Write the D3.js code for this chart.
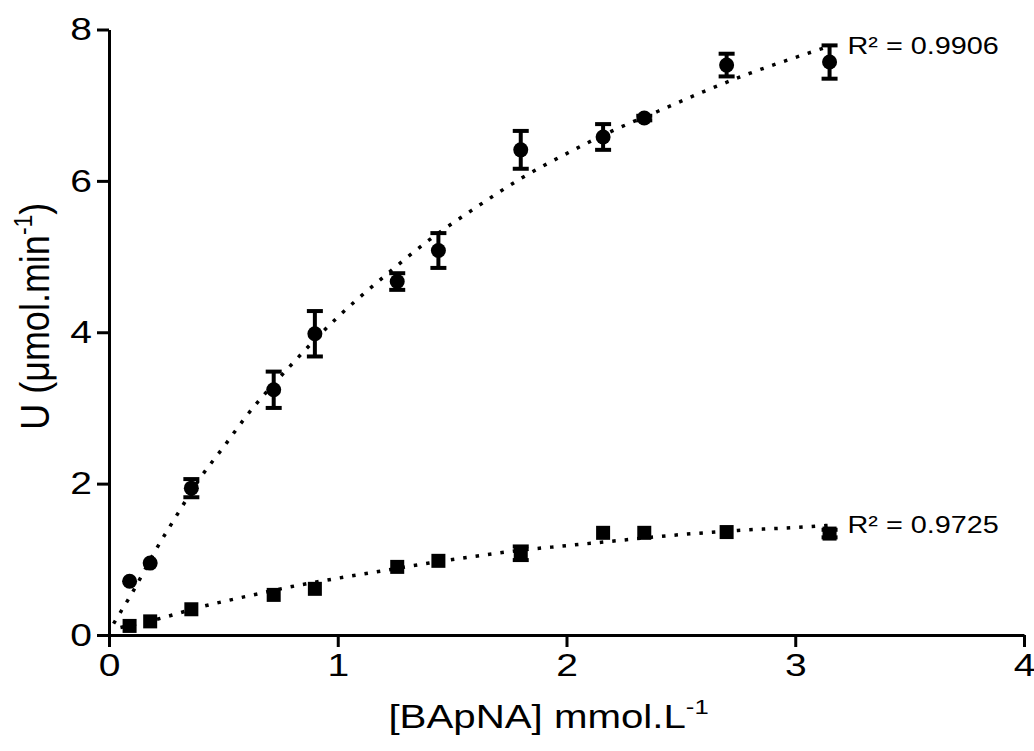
<!DOCTYPE html>
<html>
<head>
<meta charset="utf-8">
<script src="https://cdn.jsdelivr.net/npm/d3@7"></script>
<style>
  html, body { margin: 0; padding: 0; background: #fff; }
  svg { display: block; }
  text { font-family: Arial, "Liberation Sans", sans-serif; fill: #000; }
</style>
</head>
<body>
<svg id="chart" width="1034" height="751"></svg>
<script>
// ---- data ----
const xTicks = [0, 1, 2, 3, 4];
const yTicks = [0, 2, 4, 6, 8];
const substrate = [0.09, 0.18, 0.36, 0.72, 0.90, 1.26, 1.44, 1.80, 2.16, 2.34, 2.70, 3.15];
const circleU   = [0.71, 0.95, 1.94, 3.24, 3.98, 4.67, 5.08, 6.41, 6.58, 6.83, 7.53, 7.57];
const circleErr = [0.00, 0.00, 0.12, 0.24, 0.30, 0.11, 0.23, 0.25, 0.17, 0.03, 0.15, 0.22];
const squareU   = [0.12, 0.18, 0.34, 0.53, 0.61, 0.90, 0.98, 1.08, 1.35, 1.35, 1.36, 1.34];
const squareErr = [0.00, 0.00, 0.00, 0.00, 0.00, 0.00, 0.00, 0.09, 0.00, 0.00, 0.00, 0.05];
// fitted (trend) curves
const fitCircleX = [0.02, 0.05, 0.10, 0.20, 0.30, 0.40, 0.50, 0.60, 0.80, 1.00, 1.20, 1.40, 1.60, 1.80, 2.00, 2.20, 2.40, 2.60, 2.80, 3.00, 3.15];
const fitCircleY = [0.15, 0.30, 0.55, 1.10, 1.60, 2.08, 2.48, 2.89, 3.58, 4.20, 4.73, 5.22, 5.64, 6.03, 6.36, 6.66, 6.92, 7.18, 7.42, 7.63, 7.78];
const fitSquareX = [0.05, 0.20, 0.40, 0.60, 0.80, 1.00, 1.20, 1.40, 1.60, 1.80, 2.00, 2.20, 2.40, 2.60, 2.80, 3.00, 3.15];
const fitSquareY = [0.10, 0.20, 0.37, 0.51, 0.64, 0.75, 0.85, 0.95, 1.04, 1.12, 1.18, 1.24, 1.30, 1.35, 1.39, 1.42, 1.45];
const r2Labels = ["R\u00B2 = 0.9906", "R\u00B2 = 0.9725"];
const xTitle = "[BApNA] mmol.L";
const yTitle = "U (\u03BCmol.min";

// ---- layout ----
const SX = 1.22;
const svg = d3.select("#chart");
const x = d3.scaleLinear().domain([0, 4]).range([109, 1024]);
const y = d3.scaleLinear().domain([0, 8]).range([635, 29.5]);

// axes
const tickLen = 12, padY = 5, padX = 6;
const gx = svg.append("g").attr("transform", `translate(0,${y(0)})`)
  .call(d3.axisBottom(x).tickValues(xTicks).tickFormat(d3.format("d")).tickSize(tickLen).tickSizeOuter(0).tickPadding(padX));
const gy = svg.append("g").attr("transform", `translate(${x(0)},0)`)
  .call(d3.axisLeft(y).tickValues(yTicks).tickFormat(d3.format("d")).tickSize(tickLen).tickSizeOuter(0).tickPadding(padY));
[gx, gy].forEach(g => {
  g.select(".domain").attr("stroke", "#000").attr("stroke-width", 3);
  g.selectAll(".tick line").attr("stroke", "#000").attr("stroke-width", 3);
  g.selectAll(".tick text").attr("font-size", 32).attr("fill", "#000")
    .attr("font-family", 'Arial, "Liberation Sans", sans-serif');
});
gx.selectAll(".tick text").attr("transform", `scale(${SX},1)`);
gy.selectAll(".tick text").attr("x", -(tickLen + padY) / SX).attr("transform", `scale(${SX},1)`);

// fit curves (dotted)
const line = d3.line().x(d => x(d[0])).y(d => y(d[1])).curve(d3.curveMonotoneX);
const fits = [d3.zip(fitCircleX, fitCircleY), d3.zip(fitSquareX, fitSquareY)];
svg.append("g").selectAll("path").data(fits).join("path")
  .attr("d", line).attr("fill", "none").attr("stroke", "#000")
  .attr("stroke-width", 3.5).attr("stroke-dasharray", "3.5,9");

// error bars
function errBars(vals, errs) {
  const data = substrate.map((s, i) => ({ s, v: vals[i], e: errs[i] })).filter(d => d.e > 0);
  const g = svg.append("g").attr("stroke", "#000");
  g.selectAll("line.v").data(data).join("line")
    .attr("x1", d => x(d.s)).attr("x2", d => x(d.s))
    .attr("y1", d => y(d.v - d.e)).attr("y2", d => y(d.v + d.e)).attr("stroke-width", 4);
  ["top", "bot"].forEach(k => {
    g.selectAll("line." + k).data(data).join("line")
      .attr("x1", d => x(d.s) - 8).attr("x2", d => x(d.s) + 8)
      .attr("y1", d => y(k === "top" ? d.v + d.e : d.v - d.e))
      .attr("y2", d => y(k === "top" ? d.v + d.e : d.v - d.e))
      .attr("stroke-width", 4);
  });
}
errBars(circleU, circleErr);
errBars(squareU, squareErr);

// markers
svg.append("g").selectAll("circle").data(substrate).join("circle")
  .attr("cx", d => x(d)).attr("cy", (d, i) => y(circleU[i])).attr("r", 7.5).attr("fill", "#000");
svg.append("g").selectAll("rect").data(substrate).join("rect")
  .attr("x", d => x(d) - 7).attr("y", (d, i) => y(squareU[i]) - 7)
  .attr("width", 14).attr("height", 14).attr("fill", "#000");

// R² labels
const ends = [[fitCircleX[fitCircleX.length - 1], fitCircleY[fitCircleY.length - 1]],
              [fitSquareX[fitSquareX.length - 1], fitSquareY[fitSquareY.length - 1]]];
ends.forEach((e, i) => {
  svg.append("text").attr("transform", `translate(${x(e[0]) + 18},${y(e[1]) + 8}) scale(1.2,1)`)
    .attr("font-size", 24).text(r2Labels[i]);
});

// x title
const xt = svg.append("text").attr("transform", `translate(${(x(0) + x(4)) / 2 - 18},728) scale(1.22,1)`)
  .attr("text-anchor", "middle").attr("font-size", 33);
xt.append("tspan").text(xTitle);
xt.append("tspan").attr("font-size", 21).attr("dy", -14).text("-1");

// y title
const yt = svg.append("text").attr("transform", `translate(49,${(y(0) + y(8)) / 2 - 16}) scale(1.15,1) rotate(-90)`)
  .attr("text-anchor", "middle").attr("font-size", 36);
yt.append("tspan").text(yTitle);
yt.append("tspan").attr("font-size", 23).attr("dy", -15).text("-1");
yt.append("tspan").attr("dy", 15).text(")");
</script>
</body>
</html>
